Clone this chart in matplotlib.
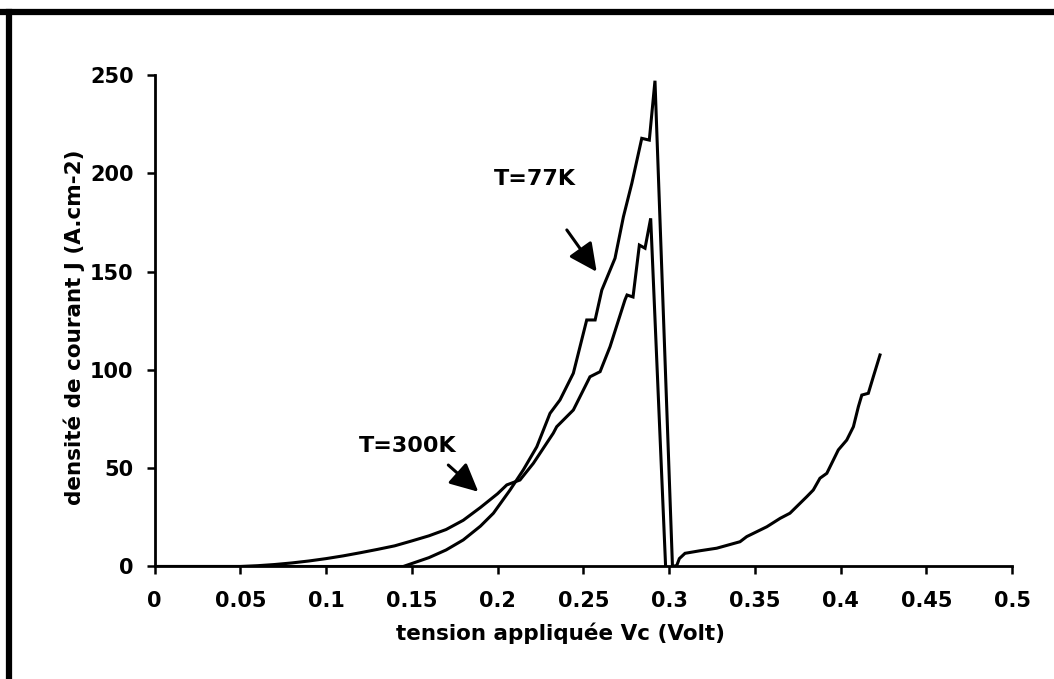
import matplotlib
matplotlib.use("Agg")
import matplotlib.pyplot as plt
from matplotlib.lines import Line2D

# ---- data ----
v_300k = [0, 0.05, 0.06, 0.07, 0.08, 0.09, 0.10, 0.11, 0.12, 0.13, 0.14, 0.15,
          0.16, 0.17, 0.18, 0.19, 0.20, 0.2054, 0.2131, 0.2209, 0.2325, 0.2345,
          0.2442, 0.2539, 0.2598, 0.2656, 0.2743, 0.2755, 0.279, 0.2827, 0.286,
          0.2893, 0.298]
j_300k = [0, 0, 0.4, 1.0, 1.8, 2.8, 4.0, 5.4, 7.0, 8.7, 10.5, 13.0,
          15.6, 18.8, 23.5, 30.0, 37.0, 41.5, 44, 52.5, 67.8, 71.1,
          79.6, 96.5, 99.1, 111.8, 135.6, 138.1, 137.1, 163.5, 161.9,
          177.1, 0]

v_77k = [0, 0.145, 0.15, 0.16, 0.17, 0.18, 0.19, 0.1976, 0.2073, 0.2150, 0.2229,
         0.2306, 0.2364, 0.2442, 0.2520, 0.2569, 0.2608, 0.2685, 0.2734, 0.2783,
         0.2841, 0.2885, 0.2918, 0.302, 0.3045, 0.306, 0.3093, 0.318, 0.3278,
         0.3414, 0.3453, 0.357, 0.3648, 0.3705, 0.3803, 0.3841, 0.388, 0.392,
         0.3987, 0.4036, 0.4075, 0.4104, 0.4124, 0.4162, 0.4191, 0.423]
j_77k = [0, 0, 1.5, 4.5, 8.4, 13.5, 20.5, 27.1, 38.9, 49.1, 60.9,
         77.9, 84.7, 98.3, 125.4, 125.4, 140.6, 156.8, 177.9, 194.9,
         217.8, 216.9, 247.1, 0, 0.5, 4.0, 6.7, 8.0, 9.3,
         12.6, 15.2, 20.2, 24.5, 27.1, 35.5, 38.9, 44.9, 47.4,
         59.3, 64.3, 71.1, 81.3, 87.2, 88.1, 96.5, 107.6]

x_ticks = [0, 0.05, 0.1, 0.15, 0.2, 0.25, 0.3, 0.35, 0.4, 0.45, 0.5]
x_tick_labels = ["0", "0.05", "0.1", "0.15", "0.2", "0.25", "0.3", "0.35", "0.4", "0.45", "0.5"]
y_ticks = [0, 50, 100, 150, 200, 250]

plt.rcParams['font.family'] = ['DejaVu Sans']
plt.rcParams['font.weight'] = 'bold'

fig = plt.figure(figsize=(10.54, 6.79), dpi=100)
ax = fig.add_axes([0.1466, 0.1657, 0.9602 - 0.1466, 0.8895 - 0.1657])

ax.plot(v_300k, j_300k, color='black', lw=2.2, solid_joinstyle='miter')
ax.plot(v_77k, j_77k, color='black', lw=2.2, solid_joinstyle='miter')

ax.set_xlim(0, 0.5)
ax.set_ylim(0, 250)
ax.set_xticks(x_ticks)
ax.set_xticklabels(x_tick_labels)
ax.set_yticks(y_ticks)

for s in ['top', 'right']:
    ax.spines[s].set_visible(False)
for s in ['left', 'bottom']:
    ax.spines[s].set_linewidth(2.0)
    ax.spines[s].set_color('black')

ax.tick_params(axis='x', direction='out', length=6, width=1.8, pad=12,
               labelsize=15, colors='black')
ax.tick_params(axis='y', direction='out', length=6, width=1.8, pad=9,
               labelsize=15, colors='black')
for lab in ax.get_xticklabels() + ax.get_yticklabels():
    lab.set_fontweight('bold')

ax.set_xlabel("tension appliquée Vc (Volt)", fontsize=15.5, fontweight='bold')
ax.set_ylabel("densité de courant J (A.cm-2)", fontsize=15.5, fontweight='bold')
ax.xaxis.set_label_coords(0.473, -0.135)
ax.xaxis.label.set_va('center')
ax.yaxis.set_label_coords(-0.094, 0.486)
ax.yaxis.label.set_va('center')

arrow = dict(arrowstyle='-|>,head_length=0.45,head_width=0.22', color='black',
             lw=2.2, mutation_scale=38, shrinkA=0, shrinkB=0)
ax.text(0.2219, 197.1, "T=77K", fontsize=16, fontweight='bold', ha='center', va='center')
ax.annotate("", xy=(0.2578, 149.9), xytext=(0.2404, 171.2), arrowprops=arrow)
ax.text(0.1478, 61.3, "T=300K", fontsize=16, fontweight='bold', ha='center', va='center')
ax.annotate("", xy=(0.1888, 38.0), xytext=(0.1713, 51.6), arrowprops=arrow)

# scanned frame (top and left borders)
fig.add_artist(Line2D([0, 1], [1 - 12 / 679, 1 - 12 / 679], transform=fig.transFigure,
                      color='black', lw=4.5))
fig.add_artist(Line2D([9 / 1054, 9 / 1054], [0, 1 - 12 / 679], transform=fig.transFigure,
                      color='black', lw=4.5))

fig.savefig("out.png", dpi=100)
